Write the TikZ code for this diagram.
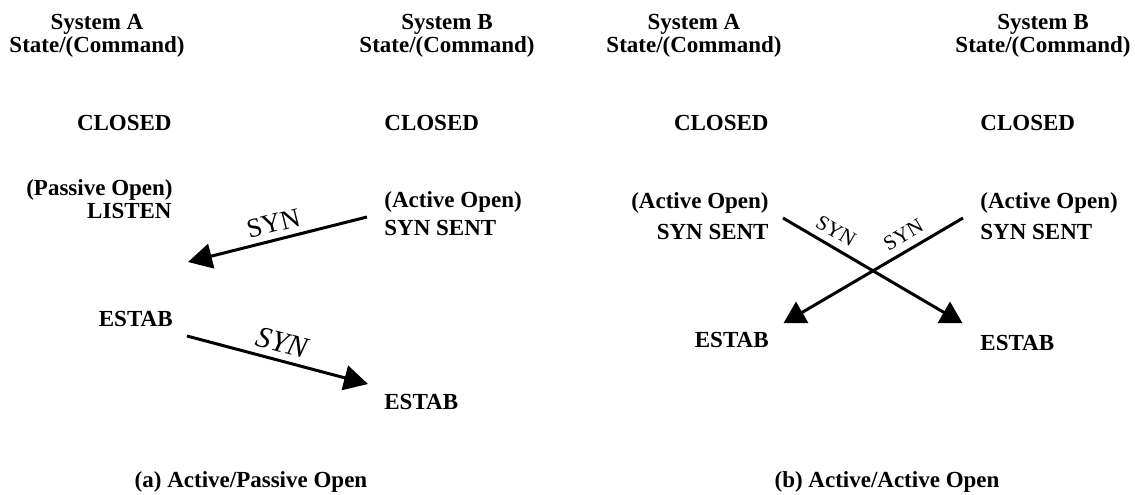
\documentclass[tikz,border=0pt]{standalone}
\usepackage{fontspec}
\setmainfont{Liberation Serif}
\usetikzlibrary{arrows.meta,shapes.geometric}
\begin{document}
\begin{tikzpicture}[x=0.5pt,y=-0.5pt,
  txt/.style={font=\fontsize{11.5}{13.8}\selectfont\bfseries, inner sep=0pt},
  lft/.style={txt, anchor=base west},
  rgt/.style={txt, anchor=base east},
  ctr/.style={txt, anchor=base},
  msg/.style={line width=1.5pt, -{Triangle[length=12pt,width=12.5pt]}},
  xmsg/.style={line width=1.5pt},
  head/.style={regular polygon, regular polygon sides=3, fill=black, draw=none, inner sep=0pt, minimum size=14.4pt},
  lblA/.style={font=\fontsize{13.5}{16}\selectfont, sloped, above=3pt, inner sep=0pt},
  lblI/.style={font=\fontsize{15}{18}\selectfont\itshape, sloped, above=3pt, inner sep=0pt},
  lblB/.style={font=\fontsize{10.5}{13}\selectfont, sloped, above=3.5pt, inner sep=0pt}
]
\useasboundingbox (0,0) rectangle (1135,494);

% ---------- (a) ----------
\node[ctr] (aA1) at (97,29) {System A};
\node[ctr] (aA2) at (97,52) {State/(Command)};
\node[ctr] (aB1) at (447,29) {System B};
\node[ctr] (aB2) at (447,52) {State/(Command)};

\node[rgt] (aAc) at (172,130) {CLOSED};
\node[lft] (aBc) at (384,130) {CLOSED};
\node[rgt] (aApo) at (173,195) {(Passive Open)};
\node[rgt] (aAl) at (172,218) {LISTEN};
\node[lft] (aBao) at (384,207) {(Active Open)};
\node[lft] (aBss) at (384,235) {SYN SENT};
\node[rgt] (aAe) at (173,326) {ESTAB};
\node[lft] (aBe) at (384,409) {ESTAB};
\node[ctr] (capA) at (251,487) {(a) Active/Passive Open};

\coordinate (a1s) at (367,217);
\coordinate (a1e) at (188,262);
\coordinate (a2s) at (187,336);
\coordinate (a2e) at (368,384);
\draw[msg] (a1s) -- node[lblA] (synA1) {SYN} (a1e);
\draw[msg] (a2s) -- node[lblI] (synA2) {SYN} (a2e);

% ---------- (b) ----------
\node[ctr] (bA1) at (694,29) {System A};
\node[ctr] (bA2) at (694,52) {State/(Command)};
\node[ctr] (bB1) at (1043,29) {System B};
\node[ctr] (bB2) at (1043,52) {State/(Command)};

\node[rgt] (bAc) at (769,130) {CLOSED};
\node[lft] (bBc) at (980,130) {CLOSED};
\node[rgt] (bAao) at (769,208) {(Active Open)};
\node[rgt] (bAss) at (769,239) {SYN SENT};
\node[lft] (bBao) at (980,208) {(Active Open)};
\node[lft] (bBss) at (980,239) {SYN SENT};
\node[rgt] (bAe) at (769,347) {ESTAB};
\node[lft] (bBe) at (980,350) {ESTAB};
\node[ctr] (capB) at (887,487) {(b) Active/Active Open};

\coordinate (bsA) at (783,218);
\coordinate (bsB) at (963,218);
\node[head] (triL) at (796,316) {};
\node[head] (triR) at (950,316) {};
\draw[xmsg] (bsA) -- node[lblB, pos=0.27] (synB1) {SYN} (triR.center);
\draw[xmsg] (bsB) -- node[lblB, pos=0.31] (synB2) {SYN} (triL.center);
\end{tikzpicture}
\end{document}
